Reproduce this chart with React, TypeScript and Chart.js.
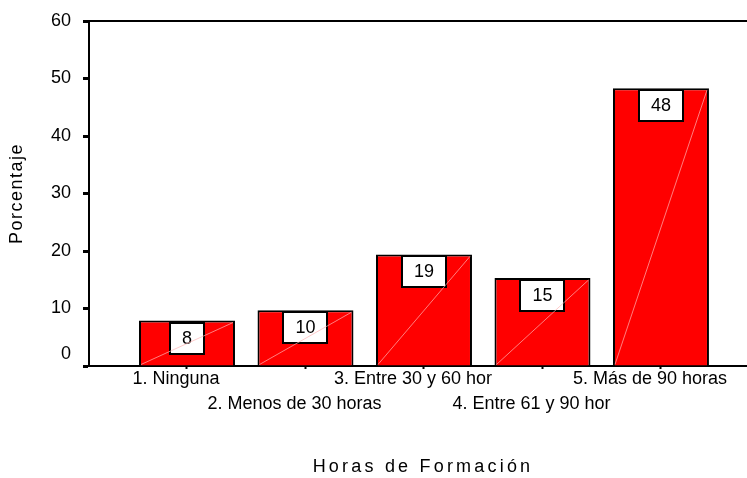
import React, { useEffect, useRef } from "react";
import { Chart, registerables } from "chart.js";

Chart.register(...registerables);

const categories = [
  "1. Ninguna",
  "2. Menos de 30 horas",
  "3. Entre 30 y 60 hor",
  "4. Entre 61 y 90 hor",
  "5. Más de 90 horas",
];
const percentages = [7.9, 9.7, 19.4, 15.3, 48.3];
const yMin = 0;
const yMax = 60;
const yStep = 10;
const xTitle = "Horas de Formación";
const yTitle = "Porcentaje";

const FONT = "'Liberation Sans', Arial, Helvetica, sans-serif";

function patchTitleSpacing(scale: any, spacing: string, dx: number) {
  if (scale.__lsPatched) return;
  const orig = scale.drawTitle.bind(scale);
  scale.drawTitle = (...args: any[]) => {
    const c = scale.ctx as any;
    c.save();
    c.letterSpacing = spacing;
    c.translate(dx, 0);
    orig(...args);
    c.restore();
  };
  scale.__lsPatched = true;
}

const barDecor = {
  id: "barDecor",
  afterDatasetsDraw(chart: any) {
    const ctx = chart.ctx as CanvasRenderingContext2D;
    const meta = chart.getDatasetMeta(0);
    ctx.save();
    meta.data.forEach((bar: any, i: number) => {
      const { x, y, base, width } = bar.getProps(["x", "y", "base", "width"], true);
      const label = String(Math.round(percentages[i]));
      ctx.font = `18px ${FONT}`;
      const tw = ctx.measureText(label).width;
      const bw = Math.round(tw + 24);
      const bh = 31;
      const bx = Math.round(x - bw / 2);
      const by = Math.round(y + 2);
      ctx.fillStyle = "#ffffff";
      ctx.fillRect(bx, by, bw, bh);
      ctx.lineWidth = 2;
      ctx.strokeStyle = "#000000";
      ctx.strokeRect(bx, by, bw, bh);
      ctx.fillStyle = "#000000";
      ctx.textAlign = "center";
      ctx.textBaseline = "middle";
      ctx.fillText(label, x, by + bh / 2 + 1);
      // faint diagonal artefact line
      ctx.strokeStyle = "rgba(255,180,180,0.7)";
      ctx.lineWidth = 1;
      ctx.beginPath();
      ctx.moveTo(x - width / 2 + 2, base - 1);
      ctx.lineTo(x + width / 2 - 2, y + 2);
      ctx.stroke();
    });
    const { left, right, top } = chart.chartArea;
    ctx.strokeStyle = "#000000";
    ctx.lineWidth = 2;
    ctx.beginPath();
    ctx.moveTo(left, top);
    ctx.lineTo(right, top);
    ctx.stroke();
    ctx.restore();
  },
};

export default function App() {
  const ref = useRef<HTMLCanvasElement | null>(null);

  useEffect(() => {
    if (!ref.current) return;
    const chart = new Chart(ref.current, {
      type: "bar",
      data: {
        datasets: [
          {
            data: percentages.map((v, i) => ({ x: i, y: v })),
            backgroundColor: "#ff0000",
            borderColor: "#000000",
            borderWidth: 2,
            barPercentage: 0.81,
            categoryPercentage: 1,
          },
        ],
      },
      options: {
        responsive: false,
        animation: false,
        events: [],
        layout: { padding: { top: 21, right: 0, bottom: 0, left: 0 } },
        plugins: {
          legend: { display: false },
          tooltip: { enabled: false },
        },
        scales: {
          x: {
            type: "linear",
            offset: false,
            min: -0.827,
            max: 4.726,
            afterBuildTicks: (scale: any) => {
              scale.ticks = categories.map((_, i) => ({ value: i }));
            },
            afterFit: (scale: any) => {
              scale.height = 112;
              scale.paddingLeft = 0;
              scale.paddingRight = 0;
              patchTitleSpacing(scale, "3.2px", 5);
            },
            border: { display: true, color: "#000000", width: 2 },
            grid: {
              display: true,
              offset: false,
              drawOnChartArea: false,
              drawTicks: true,
              tickLength: 3,
              tickWidth: 2,
              color: "#000000",
              tickColor: "#000000",
            },
            ticks: {
              autoSkip: false,
              maxRotation: 0,
              minRotation: 0,
              padding: -3,
              labelOffset: -11,
              color: "#000000",
              font: { family: FONT, size: 18, lineHeight: 25.3 / 18 },
              callback: (value: any) => {
                const i = Math.round(Number(value));
                const name = categories[i];
                return i % 2 === 1 ? ["", name] : name;
              },
            },
            title: {
              display: true,
              text: xTitle,
              color: "#000000",
              font: { family: FONT, size: 18 },
              padding: { top: 0, bottom: 0 },
            },
          },
          y: {
            min: yMin,
            max: yMax,
            afterFit: (scale: any) => {
              scale.width = 89;
              scale.paddingTop = 0;
              scale.paddingBottom = 0;
              patchTitleSpacing(scale, "1.5px", 0);
            },
            border: { display: true, color: "#000000", width: 2 },
            grid: {
              display: true,
              drawOnChartArea: false,
              drawTicks: true,
              tickLength: 6,
              tickWidth: 3,
              color: "#000000",
              tickColor: "#000000",
            },
            ticks: {
              stepSize: yStep,
              padding: 12,
              color: "#000000",
              font: { family: FONT, size: 18, lineHeight: 24 / 18 },
              callback: (value: any) => (Number(value) === 0 ? ["0", ""] : String(value)),
            },
            title: {
              display: true,
              text: yTitle,
              color: "#000000",
              font: { family: FONT, size: 18 },
              padding: { top: 6, bottom: 0 },
            },
          },
        },
      } as any,
      plugins: [barDecor],
    });
    return () => chart.destroy();
  }, []);

  return (
    <div style={{ position: "absolute", left: 0, top: 0, width: 747, height: 478, background: "#ffffff" }}>
      <canvas ref={ref} width={747} height={478} />
    </div>
  );
}
